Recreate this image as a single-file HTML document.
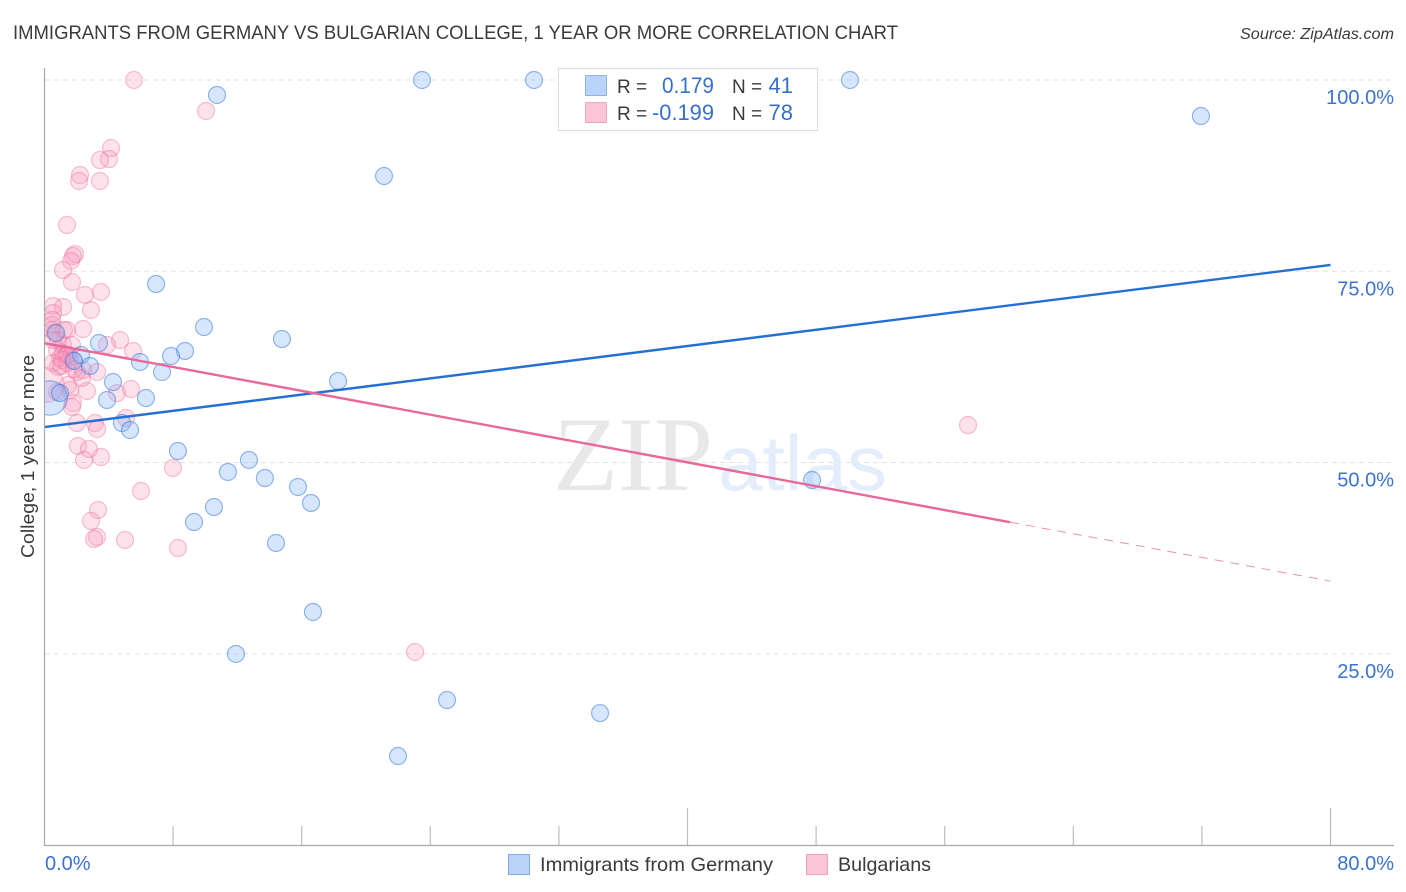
<!DOCTYPE html>
<html lang="en">
<head>
<meta charset="utf-8">
<title>Immigrants from Germany vs Bulgarian College Correlation Chart</title>
<style>
html,body{margin:0;padding:0;background:#fff;}
body{width:1406px;height:892px;overflow:hidden;}
svg{display:block;}
text{font-family:"Liberation Sans",sans-serif;}
</style>
</head>
<body>
<svg id="chart" xmlns="http://www.w3.org/2000/svg" width="1406" height="892" viewBox="0 0 1406 892">
  <defs>
    <clipPath id="plot-clip"><rect x="45" y="60" width="1349" height="785"/></clipPath>
  </defs>
  <rect x="0" y="0" width="1406" height="892" fill="#ffffff"/>
  <text x="13" y="39" font-size="19.5" fill="#3a3a3f" textLength="885" lengthAdjust="spacingAndGlyphs">IMMIGRANTS FROM GERMANY VS BULGARIAN COLLEGE, 1 YEAR OR MORE CORRELATION CHART</text>
  <text x="1394" y="39" font-size="15.5" font-style="italic" fill="#3a3a3f" text-anchor="end" textLength="154" lengthAdjust="spacingAndGlyphs">Source: ZipAtlas.com</text>
  <text transform="translate(34,558) rotate(-90)" font-size="18.5" fill="#3a3a3f" textLength="203" lengthAdjust="spacingAndGlyphs">College, 1 year or more</text>

  <g id="grid"></g>
  <g>
    <text x="553" y="490" font-size="106" style="font-family:'Liberation Serif',serif" fill="#e8e8e8" textLength="160" lengthAdjust="spacingAndGlyphs">ZIP</text>
    <text x="718" y="490" font-size="78" fill="#e3edfb" textLength="169" lengthAdjust="spacingAndGlyphs">atlas</text>
  </g>
  <g id="points-pink" clip-path="url(#plot-clip)"></g>
  <g id="points-blue" clip-path="url(#plot-clip)"></g>
  <g id="trends"></g>
  <g id="axes"></g>

  <g>
    <rect x="558.5" y="68.5" width="259" height="62" fill="#ffffff" stroke="#dcdcdc" stroke-width="1"/>
    <rect x="585.5" y="75.5" width="21" height="20" fill="#b9d4f8" stroke="#8fb4e6"/>
    <rect x="585.5" y="102.5" width="21" height="20" fill="#fcc6d8" stroke="#f2a9c1"/>
    <text x="617" y="93" font-size="19" fill="#3a3a3f">R =</text>
    <text x="714" y="93" font-size="22" fill="#3570d0" text-anchor="end" textLength="52" lengthAdjust="spacingAndGlyphs">0.179</text>
    <text x="732" y="93" font-size="19" fill="#3a3a3f">N =</text>
    <text x="793" y="93" font-size="22" fill="#3570d0" text-anchor="end">41</text>
    <text x="617" y="120" font-size="19" fill="#3a3a3f">R =</text>
    <text x="714" y="120" font-size="22" fill="#3570d0" text-anchor="end" textLength="62" lengthAdjust="spacingAndGlyphs">-0.199</text>
    <text x="732" y="120" font-size="19" fill="#3a3a3f">N =</text>
    <text x="793" y="120" font-size="22" fill="#3570d0" text-anchor="end">78</text>
  </g>

  <g>
    <g>
      <rect x="508.5" y="854.5" width="21" height="20" fill="#b9d4f8" stroke="#7dabe6"/>
      <text x="540" y="871" font-size="19.5" fill="#3a3a3f" textLength="233" lengthAdjust="spacingAndGlyphs">Immigrants from Germany</text>
    </g>
    <g>
      <rect x="806.5" y="854.5" width="21" height="20" fill="#fcc6d8" stroke="#f2a0bc"/>
      <text x="838" y="871" font-size="19.5" fill="#3a3a3f" textLength="93" lengthAdjust="spacingAndGlyphs">Bulgarians</text>
    </g>
  </g>
</svg>
<script>
const blueX = [10.73,23.48,30.45,50.11,71.94,21.12,6.94,9.92,14.77,8.74,7.87,3.39,2.27,1.84,2.83,0.72,5.94,7.31,4.26,18.26,6.31,3.89,0.34,4.82,5.32,8.30,12.72,11.41,13.71,15.77,16.58,10.54,9.30,14.40,16.70,11.91,25.04,34.56,21.99,47.75,0.96];
const blueY = [98.04,100,100,100,95.29,87.45,73.33,67.71,66.14,64.58,63.92,65.62,64.05,63.27,62.61,66.93,63.14,61.83,60.52,60.65,58.43,58.17,58.43,55.16,54.25,51.50,50.33,48.76,47.97,46.80,44.71,44.18,42.22,39.48,30.46,24.97,18.95,17.25,11.63,47.71,59.08];
const blueLargeIndex = [22];
const pinkX = [5.57,10.05,4.14,4.01,3.45,2.21,2.15,3.45,1.40,1.90,1.77,1.65,1.15,1.71,2.52,3.51,2.89,1.15,0.53,0.53,0.47,0.47,0.47,0.65,1.40,1.21,2.40,4.70,3.89,5.51,0.78,1.15,1.15,0.96,1.59,1.34,0.53,0.84,1.03,1.40,2.02,3.27,2.40,1.84,2.64,4.51,5.38,1.59,1.46,1.77,1.71,2.02,3.14,3.27,5.07,2.08,2.77,2.46,3.51,7.99,6.00,3.33,2.89,3.27,3.08,5.01,8.30,57.45,23.05,1.71,1.46,1.77,2.33,0.78,0.16,0.84,0.53,1.09];
const pinkY = [100,95.95,91.11,89.67,89.54,87.58,86.80,86.80,81.05,77.25,76.99,76.34,75.16,73.59,71.90,72.29,69.93,70.33,70.46,69.54,68.63,67.97,67.32,66.93,67.32,67.32,67.45,66.01,65.36,64.58,64.71,65.36,64.31,63.66,63.79,63.92,63.01,62.48,62.61,63.01,61.83,61.83,62.09,62.22,59.35,59.08,59.61,59.48,60.13,57.78,57.25,55.16,55.16,54.38,55.82,52.16,51.76,50.33,50.72,49.28,46.27,43.79,42.35,40.26,40.00,39.87,38.82,54.90,25.23,65.36,64.05,63.40,61.05,59.22,60.13,66.01,66.01,63.40];
const pinkLargeIndex = [74];
const blueTrendX = [0,80];
const blueTrendY = [54.64,75.82];
const pinkTrendX = [0,60.06];
const pinkTrendY = [65.6,42.2];
const pinkDashX = [60.06,80];
const pinkDashY = [42.2,34.5];
const xTickValues = [8,16,24,32,40,48,56,64,72,80];
const xMajorTicks = [40,80];
const xTickLabels = ["0.0%","80.0%"];
const yTickValues = [25,50,75,100];
const yTickLabels = ["25.0%","50.0%","75.0%","100.0%"];

const NS = 'http://www.w3.org/2000/svg';
function xScale(v){ return 44.5 + v * (1330.5 - 44.5) / 80; }
function yScale(v){ return 845 - v * 7.65; }
function make(tag, attrs, parent){
  const el = document.createElementNS(NS, tag);
  for (const k in attrs) el.setAttribute(k, attrs[k]);
  parent.appendChild(el);
  return el;
}

const grid = document.getElementById('grid');
yTickValues.forEach(function(v){
  const el = make('line', {x1:45, x2:1394, y1:yScale(v), y2:yScale(v), stroke:'#e2e2e2', 'stroke-width':1, 'stroke-dasharray':'5 4'}, grid);
  
  
});

function drawPoints(groupId, xs, ys, large, fill, stroke, name){
  const g = document.getElementById(groupId);
  xs.forEach(function(x, i){
    const r = large.indexOf(i) >= 0 ? 17.2 : 8.5;
    const el = make('circle', {cx:xScale(x), cy:yScale(ys[i]), r:r, fill:fill, stroke:stroke, 'stroke-width':1.2}, g);
    
    
  });
}
drawPoints('points-pink', pinkX, pinkY, pinkLargeIndex, 'rgba(248,150,185,0.28)', 'rgba(236,110,155,0.42)', 'bulgarians-point');
drawPoints('points-blue', blueX, blueY, blueLargeIndex, 'rgba(130,180,245,0.33)', 'rgba(40,110,215,0.48)', 'germany-point');

const trends = document.getElementById('trends');
const blueLine = make('line', {x1:xScale(blueTrendX[0]), y1:yScale(blueTrendY[0]), x2:xScale(blueTrendX[1]), y2:yScale(blueTrendY[1]), stroke:'#2470d2', 'stroke-width':2.4}, trends);


const pinkLine = make('line', {x1:xScale(pinkTrendX[0]), y1:yScale(pinkTrendY[0]), x2:xScale(pinkTrendX[1]), y2:yScale(pinkTrendY[1]), stroke:'#e8689a', 'stroke-width':2.4}, trends);


const pinkDash = make('line', {x1:xScale(pinkDashX[0]), y1:yScale(pinkDashY[0]), x2:xScale(pinkDashX[1]), y2:yScale(pinkDashY[1]), stroke:'#ee8fb3', 'stroke-width':1, 'stroke-dasharray':'9 7'}, trends);



const axes = document.getElementById('axes');
const yAxisLine = make('line', {x1:44.5, x2:44.5, y1:68, y2:846, stroke:'#a8a8a8', 'stroke-width':1.2}, axes);


const xAxisLine = make('line', {x1:44, x2:1394, y1:845.5, y2:845.5, stroke:'#a8a8a8', 'stroke-width':1.2}, axes);


xTickValues.forEach(function(v){
  const top = xMajorTicks.indexOf(v) >= 0 ? 808 : 826;
  const el = make('line', {x1:xScale(v), x2:xScale(v), y1:top, y2:845, stroke:'#bdbdbd', 'stroke-width':1.2}, axes);
  
  
});
yTickValues.forEach(function(v, i){
  const el = make('text', {x:1394, y:yScale(v) + 24, 'font-size':20, fill:'#3b72d4', 'text-anchor':'end'}, axes);
  el.textContent = yTickLabels[i];
  
  
});
const xLabelStart = make('text', {x:45, y:870, 'font-size':20, fill:'#3b72d4'}, axes);
xLabelStart.textContent = xTickLabels[0];


const xLabelEnd = make('text', {x:1394, y:870, 'font-size':20, fill:'#3b72d4', 'text-anchor':'end'}, axes);
xLabelEnd.textContent = xTickLabels[1];


</script>
</body>
</html>
